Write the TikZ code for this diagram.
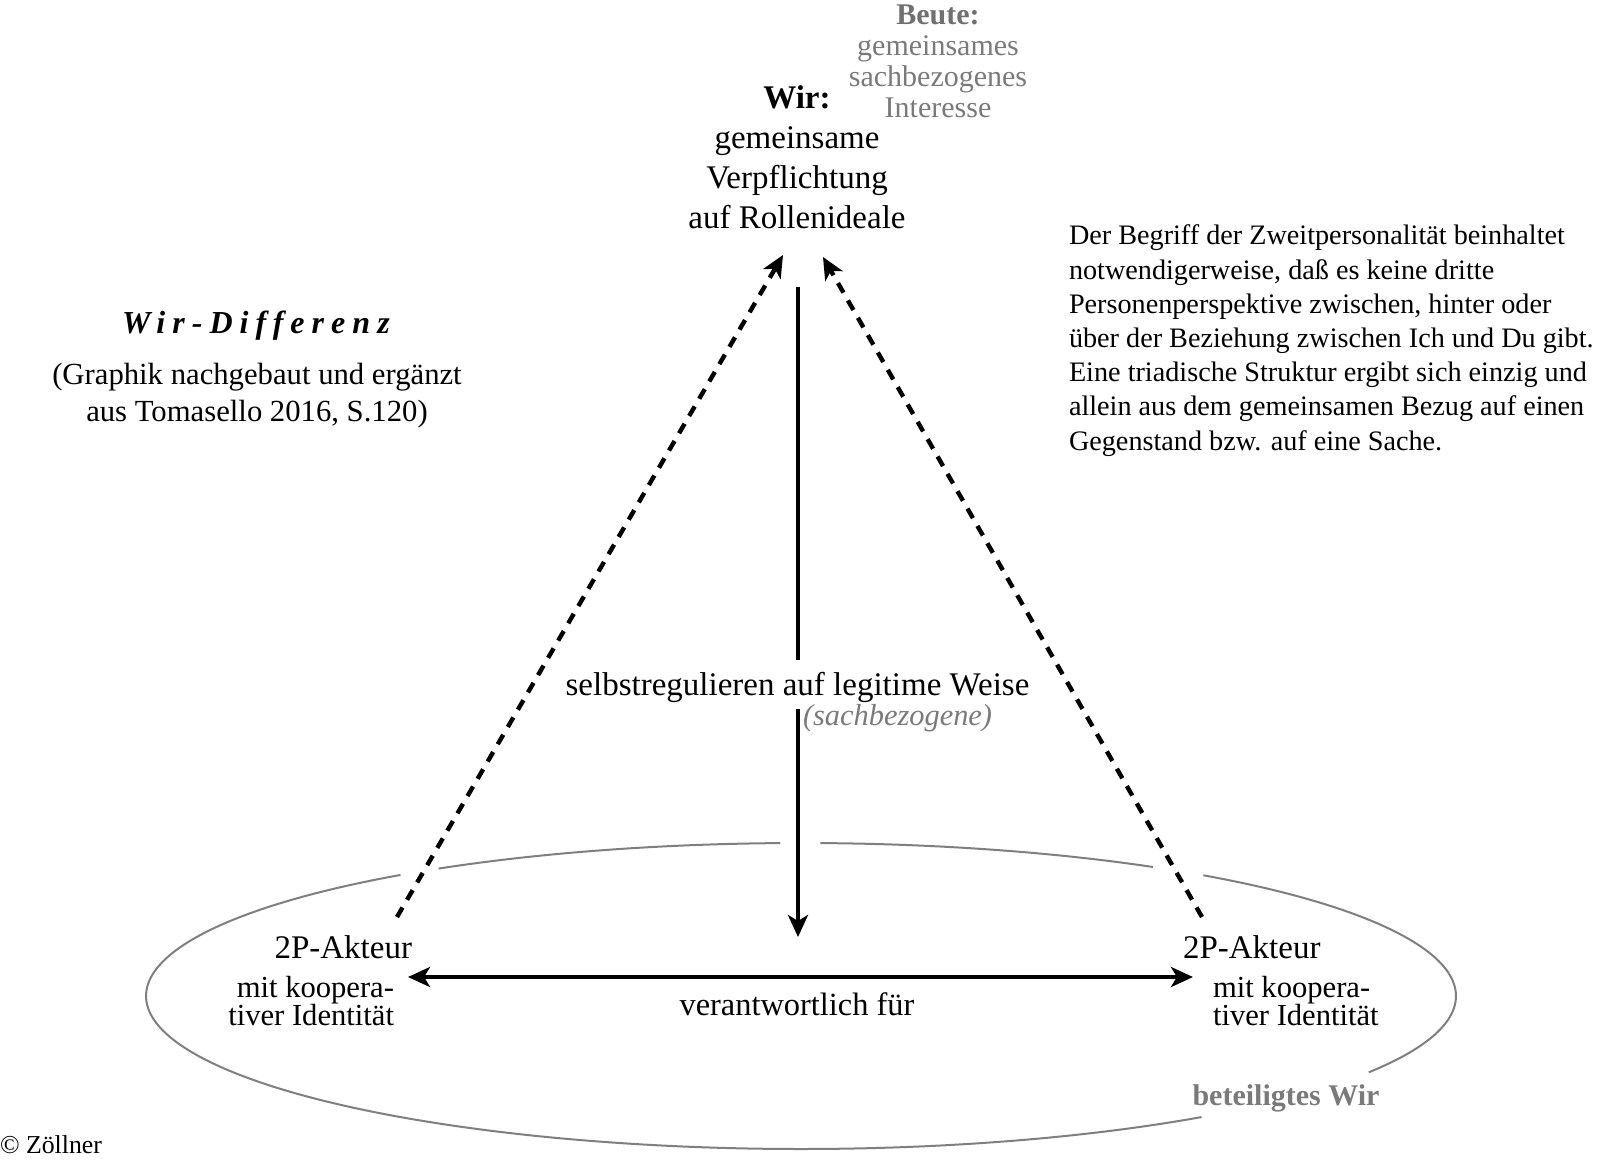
\documentclass[tikz,border=0pt]{standalone}
\usepackage{fontspec}
\setmainfont{Liberation Serif}
\usetikzlibrary{arrows.meta}
\definecolor{ellgray}{HTML}{7F7F7F}
\definecolor{txtgray}{HTML}{707070}
\definecolor{ltgray}{HTML}{7A7A7A}
\tikzset{
  lbl/.style={inner sep=0pt, outer sep=0pt},
  solidarrow/.style={line width=2pt, -{Stealth[length=11pt,width=10pt,inset=3pt]}},
  dasharrow/.style={line width=2.2pt, dash pattern=on 5.5pt off 4.5pt, -{Stealth[length=11pt,width=10pt,inset=3pt]}},
  ellline/.style={draw=ellgray, line width=1pt},
}
\begin{document}
\begin{tikzpicture}[x=0.5pt,y=-0.5pt]
\useasboundingbox (0,0) rectangle (1600,1162);

% ellipse ("beteiligtes Wir") drawn as interrupted arcs
\draw[ellline] plot[domain=52.3:232.3, samples=120, smooth] ({801+655*cos(\x)},{996+153*sin(\x)});
\draw[ellline] plot[domain=236.4:268.2, samples=30, smooth] ({801+655*cos(\x)},{996+153*sin(\x)});
\draw[ellline] plot[domain=271.7:302.5, samples=30, smooth] ({801+655*cos(\x)},{996+153*sin(\x)});
\draw[ellline] plot[domain=307.9:389.9, samples=60, smooth] ({801+655*cos(\x)},{996+153*sin(\x)});

% top texts (base anchor = baseline of the last line)
\node[lbl, anchor=base, align=center, text=txtgray, font=\fontsize{15}{15.4}\selectfont] (beute) at (938,117)
  {\textbf{Beute:}\\ \color{ltgray}gemeinsames\\ \color{ltgray}sachbezogenes\\ \color{ltgray}Interesse};
\node[lbl, anchor=base, align=center, font=\fontsize{16.5}{20}\selectfont] (wir) at (797,228)
  {\textbf{Wir:}\\ gemeinsame\\ Verpflichtung\\ auf Rollenideale};

% left title
\node[lbl, anchor=base, font=\fontsize{16}{19}\selectfont\bfseries\itshape\addfontfeatures{LetterSpace=22}] (title) at (256,333) {Wir-Differenz};
\node[lbl, anchor=base, align=center, font=\fontsize{15.35}{18.5}\selectfont] (caption) at (257,421)
  {(Graphik nachgebaut und ergänzt\\ aus Tomasello 2016, S.120)};

% right paragraph
\node[lbl, anchor=base west, align=left, font=\fontsize{14.1}{17.1}\selectfont] (para) at (1069,450)
  {Der Begriff der Zweitpersonalität beinhaltet\\
   notwendigerweise, daß es keine dritte\\
   Personenperspektive zwischen, hinter oder\\
   über der Beziehung zwischen Ich und Du gibt.\\
   Eine triadische Struktur ergibt sich einzig und\\
   allein aus dem gemeinsamen Bezug auf einen\\
   Gegenstand bzw. auf eine Sache.};

% middle labels
\node[lbl, anchor=base, font=\fontsize{16.5}{20}\selectfont] (selbst) at (797.5,695) {selbstregulieren auf legitime Weise};
\node[lbl, anchor=base west, text=ltgray, font=\fontsize{15.2}{18}\selectfont\itshape] (sach) at (803,725) {(sachbezogene)};
\node[lbl, anchor=base, font=\fontsize{16.2}{20}\selectfont] (verant) at (797,1015) {verantwortlich für};

% actors
\node[lbl, anchor=base east, font=\fontsize{16.5}{20}\selectfont] (akL) at (412,958) {2P-Akteur};
\node[lbl, anchor=base east, align=right, font=\fontsize{15.3}{14}\selectfont] (idL) at (394,1025) {mit koopera-\\ tiver Identität};
\node[lbl, anchor=base west, font=\fontsize{16.5}{20}\selectfont] (akR) at (1183,958) {2P-Akteur};
\node[lbl, anchor=base west, align=left, font=\fontsize{15.3}{14}\selectfont] (idR) at (1213,1025) {mit koopera-\\ tiver Identität};

\node[lbl, anchor=base, text=ltgray, font=\fontsize{15}{18}\selectfont\bfseries] (betWir) at (1286,1105) {beteiligtes Wir};
\node[lbl, anchor=base west, font=\fontsize{12.9}{15}\selectfont] (copy) at (0,1153) {© Zöllner};

% connector end points
\coordinate (vtop) at (798,287);
\coordinate (vgapA) at (798,660);
\coordinate (vgapB) at (798,709);
\coordinate (vtip) at (798,937);
\coordinate (hL) at (408,977);
\coordinate (hR) at (1193,977);
\coordinate (dLb) at (397,917);
\coordinate (dLt) at (783,255);
\coordinate (dRb) at (1202,917);
\coordinate (dRt) at (823,257);

% connectors
\draw[line width=2pt] (vtop) -- (vgapA);
\draw[solidarrow] (vgapB) -- (vtip);
\draw[solidarrow, {Stealth[length=11pt,width=10pt,inset=3pt]}-{Stealth[length=11pt,width=10pt,inset=3pt]}] (hL) -- (hR);
\draw[dasharrow] (dLb) -- (dLt);
\draw[dasharrow] (dRb) -- (dRt);
\end{tikzpicture}
\end{document}
